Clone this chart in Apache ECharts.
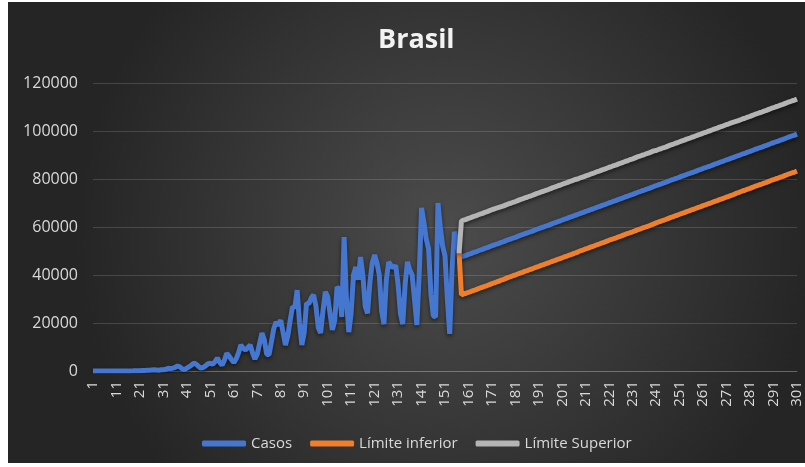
<!DOCTYPE html>
<html>
<head>
<meta charset="utf-8">
<title>Brasil</title>
<script src="https://cdn.jsdelivr.net/npm/echarts@6/dist/echarts.min.js"></script>
<style>
  html, body { margin: 0; padding: 0; background: #fff; }
  .chart { position: absolute; left: 8px; top: 2px; width: 797px; height: 461px; }
</style>
</head>
<body>
<div id="chart" class="chart"></div>
<script>
// Casos diarios (dias 1 a 157)
const casosReais = [
  0, 0, 0, 0, 1, 0, 0, 0, 1, 1,
  0, 7, 5, 10, 20, 30, 45, 60, 80, 120,
  150, 200, 230, 300, 280, 420, 500, 450, 350, 480,
  500, 700, 1100, 1000, 1200, 1500, 2100, 1700, 900, 600,
  1200, 1800, 2500, 3300, 2800, 1900, 1200, 1500, 2200, 3000,
  3200, 2800, 3900, 5400, 3600, 2400, 4500, 7400, 6200, 4800,
  3500, 5000, 7500, 10800, 9500, 8800, 9800, 10800, 7500, 5000,
  7000, 11500, 15800, 13000, 7000, 6800, 12000, 17500, 20400, 19000,
  21200, 16000, 10800, 14500, 21000, 26700, 26500, 33700, 20000, 10800,
  16000, 28300, 28000, 30500, 31700, 27000, 18000, 15800, 25000, 33000,
  31000, 24000, 17100, 21000, 35000, 34000, 22500, 55800, 30000, 16200,
  24000, 40000, 43300, 38000, 47500, 40000, 27000, 24000, 37000, 45000,
  48300, 45000, 40000, 25000, 19500, 38000, 45400, 44000, 43000, 44000,
  36000, 24000, 19500, 36000, 45500, 42000, 40000, 30000, 19200, 40000,
  68000, 62000, 55000, 51000, 32000, 23000, 22500, 70000, 60000, 52000,
  48000, 30000, 15500, 42000, 58000, 55000, 49000
];

// Previsao (dias 158 a 301)
const casosPrevisao = [
  47500, 47900, 48200, 48600, 48900, 49300, 49600, 50000, 50400, 50700,
  51100, 51400, 51800, 52200, 52500, 52900, 53200, 53600, 53900, 54300,
  54700, 55000, 55400, 55700, 56100, 56500, 56800, 57200, 57500, 57900,
  58200, 58600, 59000, 59300, 59700, 60000, 60400, 60700, 61100, 61500,
  61800, 62200, 62500, 62900, 63300, 63600, 64000, 64300, 64700, 65000,
  65400, 65800, 66100, 66500, 66800, 67200, 67500, 67900, 68300, 68600,
  69000, 69300, 69700, 70100, 70400, 70800, 71100, 71500, 71800, 72200,
  72600, 72900, 73300, 73600, 74000, 74400, 74700, 75100, 75400, 75800,
  76100, 76500, 76900, 77200, 77600, 77900, 78300, 78600, 79000, 79400,
  79700, 80100, 80400, 80800, 81200, 81500, 81900, 82200, 82600, 82900,
  83300, 83700, 84000, 84400, 84700, 85100, 85400, 85800, 86200, 86500,
  86900, 87200, 87600, 88000, 88300, 88700, 89000, 89400, 89700, 90100,
  90500, 90800, 91200, 91500, 91900, 92300, 92600, 93000, 93300, 93700,
  94000, 94400, 94800, 95100, 95500, 95800, 96200, 96500, 96900, 97300,
  97600, 98000, 98300, 98700
];

// Limites do intervalo (a partir do dia 157)
const inicioLimites = 157;
const limiteInferior = [
  49000,
  31700, 32100, 32400, 32800, 33100, 33500, 33800, 34200, 34600, 34900,
  35300, 35600, 36000, 36400, 36700, 37100, 37400, 37900, 38200, 38600,
  39000, 39300, 39700, 40000, 40400, 40800, 41100, 41500, 41800, 42200,
  42500, 42900, 43300, 43600, 44000, 44300, 44700, 45000, 45400, 45800,
  46100, 46500, 46800, 47200, 47600, 47900, 48300, 48600, 49000, 49300,
  49800, 50200, 50500, 50900, 51200, 51600, 51900, 52300, 52700, 53000,
  53400, 53700, 54100, 54500, 54800, 55200, 55500, 55900, 56200, 56600,
  57000, 57300, 57700, 58000, 58400, 58800, 59100, 59500, 59800, 60200,
  60500, 60900, 61300, 61700, 62100, 62400, 62800, 63100, 63500, 63900,
  64200, 64600, 64900, 65300, 65700, 66000, 66400, 66700, 67100, 67400,
  67800, 68200, 68500, 68900, 69200, 69600, 69900, 70300, 70700, 71000,
  71400, 71700, 72100, 72500, 72800, 73200, 73500, 74000, 74300, 74700,
  75100, 75400, 75800, 76100, 76500, 76900, 77200, 77600, 77900, 78300,
  78600, 79000, 79400, 79700, 80100, 80400, 80800, 81100, 81500, 81900,
  82200, 82600, 82900, 83300
];
const limiteSuperior = [
  49000,
  62500, 62900, 63200, 63600, 63900, 64300, 64600, 65000, 65400, 65700,
  66100, 66400, 66800, 67200, 67500, 67900, 68200, 68500, 68800, 69200,
  69600, 69900, 70300, 70600, 71000, 71400, 71700, 72100, 72400, 72800,
  73100, 73500, 73900, 74200, 74600, 74900, 75300, 75600, 76000, 76400,
  76700, 77100, 77400, 77800, 78200, 78500, 78900, 79200, 79600, 79900,
  80200, 80600, 80900, 81300, 81600, 82000, 82300, 82700, 83100, 83400,
  83800, 84100, 84500, 84900, 85200, 85600, 85900, 86300, 86600, 87000,
  87400, 87700, 88100, 88400, 88800, 89200, 89500, 89900, 90200, 90600,
  90900, 91300, 91700, 91900, 92300, 92600, 93000, 93300, 93700, 94100,
  94400, 94800, 95100, 95500, 95900, 96200, 96600, 96900, 97300, 97600,
  98000, 98400, 98700, 99100, 99400, 99800, 100100, 100500, 100900, 101200,
  101600, 101900, 102300, 102700, 103000, 103400, 103700, 104000, 104300, 104700,
  105100, 105400, 105800, 106100, 106500, 106900, 107200, 107600, 107900, 108300,
  108600, 109000, 109400, 109700, 110100, 110400, 110800, 111100, 111500, 111900,
  112200, 112600, 112900, 113300
];

const totalDias = 301;
const dias = [];
for (let d = 1; d <= totalDias; d++) dias.push(String(d));

const padLimite = (arr) => new Array(inicioLimites - 1).fill(null).concat(arr);

const sombra = { shadowColor: 'rgba(0,0,0,0.55)', shadowBlur: 4, shadowOffsetY: 2 };
const corTexto = '#d9d9d9';

const myChart = echarts.init(document.getElementById('chart'));
myChart.setOption({
  backgroundColor: new echarts.graphic.RadialGradient(0.55, 0.5, 0.8, [
    { offset: 0, color: '#4c4c4c' },
    { offset: 1, color: '#252525' }
  ]),
  animation: false,
  title: {
    text: 'Brasil',
    left: 365,
    top: 20,
    textStyle: { color: '#f2f2f2', fontFamily: 'Open Sans', fontSize: 27, fontWeight: 'bold' }
  },
  legend: {
    top: 429,
    left: 189,
    itemWidth: 44,
    itemHeight: 6,
    itemGap: 18,
    icon: 'roundRect',
    textStyle: { color: corTexto, fontFamily: 'Open Sans', fontSize: 15 },
    data: ['Casos', 'Límite inferior', 'Límite Superior']
  },
  grid: { left: 85, right: 8, top: 81, bottom: 92 },
  xAxis: {
    type: 'category',
    data: dias,
    boundaryGap: false,
    axisTick: { show: false },
    axisLine: { lineStyle: { color: 'rgba(255,255,255,0.18)' } },
    axisLabel: {
      interval: 9,
      rotate: 90,
      margin: 10,
      color: corTexto,
      fontFamily: 'Open Sans',
      fontSize: 15
    }
  },
  yAxis: {
    type: 'value',
    min: 0,
    max: 120000,
    interval: 20000,
    axisLabel: {
      color: corTexto,
      fontFamily: 'Open Sans',
      fontSize: 16,
      margin: 15,
      formatter: (v) => String(v)
    },
    splitLine: { lineStyle: { color: 'rgba(255,255,255,0.15)' } }
  },
  series: [
    {
      name: 'Casos',
      type: 'line',
      data: casosReais.concat(casosPrevisao),
      showSymbol: false,
      color: '#4677d0',
      lineStyle: Object.assign({ width: 5, color: '#4677d0' }, sombra)
    },
    {
      name: 'Límite inferior',
      type: 'line',
      data: padLimite(limiteInferior),
      showSymbol: false,
      color: '#f07f2d',
      lineStyle: Object.assign({ width: 5, color: '#f07f2d' }, sombra)
    },
    {
      name: 'Límite Superior',
      type: 'line',
      data: padLimite(limiteSuperior),
      showSymbol: false,
      color: '#b4b4b4',
      lineStyle: Object.assign({ width: 5, color: '#b4b4b4' }, sombra)
    }
  ]
});

window.addEventListener('resize', () => myChart.resize());
</script>
</body>
</html>
